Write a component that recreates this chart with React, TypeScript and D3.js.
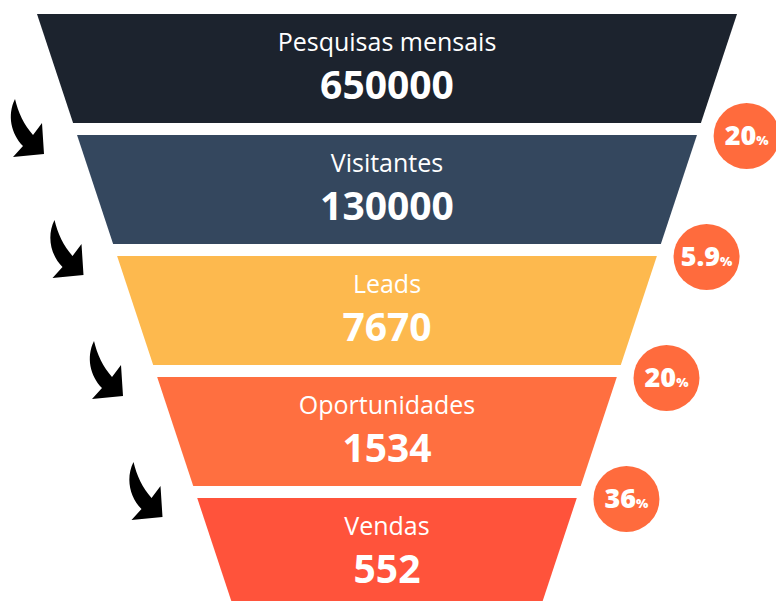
import React, { useEffect, useRef } from "react";
import * as d3 from "d3";

const stages = ["Pesquisas mensais", "Visitantes", "Leads", "Oportunidades", "Vendas"];
const values = [650000, 130000, 7670, 1534, 552];
const rates = ["20", "5.9", "20", "36"];
const colors = ["#1c232e", "#34475e", "#fdb94e", "#ff6f40", "#ff533b"];

const WIDTH = 776;
const HEIGHT = 601;
const CX = 387;

const App = () => {
  const ref = useRef<SVGSVGElement>(null);

  useEffect(() => {
    const svg = d3.select(ref.current);
    svg.selectAll("*").remove();

    const y = d3.scaleBand<string>().domain(stages).range([14, 607]).paddingInner(12 / 121).paddingOuter(0);
    const half = d3.scaleLinear().domain([14, 607]).range([350, 153.7]);

    /* funnel slices */
    const g = svg.append("g");
    stages.forEach((s, i) => {
      const y0 = y(s)!;
      const y1 = y0 + y.bandwidth();
      const pts: [number, number][] = [
        [CX - half(y0), y0],
        [CX + half(y0), y0],
        [CX + half(y1), y1],
        [CX - half(y1), y1],
      ];
      g.append("path")
        .attr("d", d3.line()(pts) + "Z")
        .attr("fill", colors[i]);

      g.append("text")
        .attr("x", CX)
        .attr("y", y0 + 37)
        .attr("text-anchor", "middle")
        .attr("font-family", "'Open Sans', sans-serif")
        .attr("font-size", 25)
        .attr("fill", "#fff")
        .text(s);

      g.append("text")
        .attr("x", CX)
        .attr("y", y0 + 85)
        .attr("text-anchor", "middle")
        .attr("font-family", "'Open Sans', sans-serif")
        .attr("font-weight", 700)
        .attr("font-size", 39)
        .attr("fill", "#fff")
        .text(values[i]);
    });

    /* conversion bubbles */
    rates.forEach((r, i) => {
      const gy = y(stages[i])! + y.bandwidth() + 13;
      const cx = CX + half(gy) + 50;
      svg.append("circle")
        .attr("cx", cx)
        .attr("cy", gy)
        .attr("r", 33)
        .attr("fill", "#ff6b3d");
      const t = svg.append("text")
        .attr("x", cx)
        .attr("y", gy + 9)
        .attr("text-anchor", "middle")
        .attr("font-family", "'Open Sans', sans-serif")
        .attr("font-weight", 800)
        .attr("fill", "#fff");
      t.append("tspan").attr("font-size", 27).text(r);
      t.append("tspan").attr("font-size", 13).text("%");
    });

    /* arrows */
    const arrow = "M15 9 C7 25, 11 44, 23 56 L13 67 L44 64 L42 33 L33 45 C24 35, 18 22, 15 9 Z";
    stages.slice(1).forEach((s, i) => {
      svg.append("path")
        .attr("d", arrow)
        .attr("transform", `translate(${i * 39.5},${y(s)! - 45})`)
        .attr("fill", "#000");
    });
  }, []);

  return (
    <svg
      ref={ref}
      width={WIDTH}
      height={HEIGHT}
      style={{ position: "absolute", left: 0, top: 0, background: "#fff" }}
    />
  );
};

export default App;
